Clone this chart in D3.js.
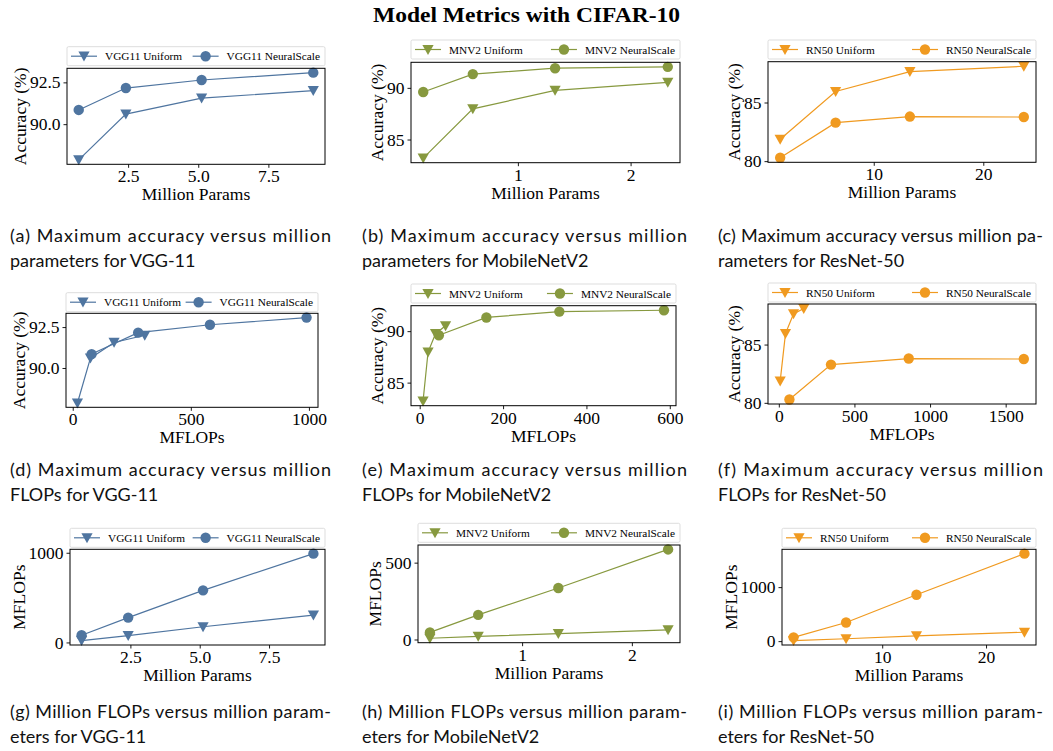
<!DOCTYPE html>
<html>
<head>
<meta charset="utf-8">
<script src="https://cdn.jsdelivr.net/npm/d3@7"></script>
<style>
  body { margin: 0; background: #fff; }
  svg { display: block; }
</style>
</head>
<body>
<svg id="chart" width="1053" height="751"></svg>
<script>
// ---- data ----
var vggParams = [0.74, 2.42, 5.12, 9.1];
var vggAccUniform = [87.86, 90.6, 91.56, 92.0];
var vggAccNeural = [90.85, 92.16, 92.64, 93.08];
var vggFlopsUniform = [20, 75, 175, 305];
var vggFlopsNeural = [80, 277, 581, 990];

var mnvParams = [0.16, 0.60, 1.33, 2.33];
var mnvAccUniform = [83.2, 87.97, 89.75, 90.52];
var mnvAccNeural = [89.6, 91.33, 91.9, 92.03];
var mnvFlopsUniform = [8, 20, 38, 62];
var mnvFlopsNeural = [46, 160, 335, 586];

var rnParams = [1.46, 6.52, 13.3, 23.7];
var rnAccUniform = [81.86, 85.94, 87.63, 88.09];
var rnAccNeural = [80.29, 83.28, 83.8, 83.76];
var rnFlopsUniform = [9, 44, 97, 165];
var rnFlopsNeural = [70, 345, 859, 1620];

var seriesNames = ["Uniform", "NeuralScale"];
var modelNames = ["VGG11", "MNV2", "RN50"];

var vggParamTicks = ["2.5", "5.0", "7.5"];
var vggAccTicks = ["90.0", "92.5"];
var vggFlopTicks = ["0", "500", "1000"];
var vggFlopYTicks = ["0", "1000"];
var mnvParamTicks = ["1", "2"];
var mnvAccTicks = ["85", "90"];
var mnvFlopTicks = ["0", "200", "400", "600"];
var mnvFlopYTicks = ["0", "500"];
var rnParamTicks = ["10", "20"];
var rnAccTicks = ["80", "85"];
var rnFlopTicks = ["0", "500", "1000", "1500"];
var rnFlopYTicks = ["0", "1000"];

var captions = [
  ["(a) Maximum accuracy versus million", "parameters for VGG-11"],
  ["(b) Maximum accuracy versus million", "parameters for MobileNetV2"],
  ["(c) Maximum accuracy versus million pa-", "rameters for ResNet-50"],
  ["(d) Maximum accuracy versus million", "FLOPs for VGG-11"],
  ["(e) Maximum accuracy versus million", "FLOPs for MobileNetV2"],
  ["(f) Maximum accuracy versus million", "FLOPs for ResNet-50"],
  ["(g) Million FLOPs versus million param-", "eters for VGG-11"],
  ["(h) Million FLOPs versus million param-", "eters for MobileNetV2"],
  ["(i) Million FLOPs versus million param-", "eters for ResNet-50"]
];

var colors = ["#4f75a0", "#87993f", "#f09a20"];

// ---- layout ----
var svg = d3.select("#chart");
var serif = "'Liberation Serif', 'Times New Roman', serif";
var sans = "Lato, 'Open Sans', sans-serif";

svg.append("text")
    .attr("x", 373).attr("y", 22)
    .attr("textLength", 307).attr("lengthAdjust", "spacingAndGlyphs")
    .style("font-family", serif).style("font-weight", "bold").style("font-size", "21px")
    .text("Model Metrics with CIFAR-10");

var panels = [
  {box: [67, 68.3, 325, 164.3], lg: 46.7, m: 0, xs: vggParams, ys: [vggAccUniform, vggAccNeural], xt: vggParamTicks, yt: vggAccTicks, xl: "Million Params", yl: "Accuracy (%)"},
  {box: [411, 62.3, 680, 162.7], lg: 40, m: 1, xs: mnvParams, ys: [mnvAccUniform, mnvAccNeural], xt: mnvParamTicks, yt: mnvAccTicks, xl: "Million Params", yl: "Accuracy (%)"},
  {box: [768, 61.7, 1036, 162.3], lg: 40, m: 2, xs: rnParams, ys: [rnAccUniform, rnAccNeural], xt: rnParamTicks, yt: rnAccTicks, xl: "Million Params", yl: "Accuracy (%)"},
  {box: [66, 313.3, 318, 407.3], lg: 292.7, m: 0, xs: [vggFlopsUniform, vggFlopsNeural], ys: [vggAccUniform, vggAccNeural], xt: vggFlopTicks, yt: vggAccTicks, xl: "MFLOPs", yl: "Accuracy (%)"},
  {box: [411, 305.7, 676, 405.7], lg: 284, m: 1, xs: [mnvFlopsUniform, mnvFlopsNeural], ys: [mnvAccUniform, mnvAccNeural], xt: mnvFlopTicks, yt: mnvAccTicks, xl: "MFLOPs", yl: "Accuracy (%)"},
  {box: [768, 304, 1036, 404], lg: 283, m: 2, xs: [rnFlopsUniform, rnFlopsNeural], ys: [rnAccUniform, rnAccNeural], xt: rnFlopTicks, yt: rnAccTicks, xl: "MFLOPs", yl: "Accuracy (%)"},
  {box: [70, 549.3, 325, 645], lg: 528.3, m: 0, xs: vggParams, ys: [vggFlopsUniform, vggFlopsNeural], xt: vggParamTicks, yt: vggFlopYTicks, xl: "Million Params", yl: "MFLOPs"},
  {box: [418, 545, 680, 642.7], lg: 523.3, m: 1, xs: mnvParams, ys: [mnvFlopsUniform, mnvFlopsNeural], xt: mnvParamTicks, yt: mnvFlopYTicks, xl: "Million Params", yl: "MFLOPs"},
  {box: [782, 549.3, 1036, 645], lg: 528.3, m: 2, xs: rnParams, ys: [rnFlopsUniform, rnFlopsNeural], xt: rnParamTicks, yt: rnFlopYTicks, xl: "Million Params", yl: "MFLOPs"}
];

var capCols = [[10, 321], [362, 325], [718, 325]];
var capRows = [242, 476, 718];

function padded(arrs) {
  var all = [].concat.apply([], arrs);
  var lo = d3.min(all), hi = d3.max(all), p = (hi - lo) * 0.05;
  return [lo - p, hi + p];
}

function marker(g, type, cx, cy, col) {
  if (type === 0) {
    g.append("path")
        .attr("d", "M" + (cx - 5.6) + "," + (cy - 4.6) + "L" + (cx + 5.6) + "," + (cy - 4.6) + "L" + cx + "," + (cy + 5.4) + "Z")
        .attr("fill", col);
  } else {
    g.append("circle").attr("cx", cx).attr("cy", cy).attr("r", 5.2).attr("fill", col);
  }
}

panels.forEach(function(p, i) {
  var col = colors[p.m];
  var xsets = Array.isArray(p.xs[0]) ? p.xs : [p.xs, p.xs];
  var L = p.box[0], T = p.box[1], R = p.box[2], B = p.box[3];
  var x = d3.scaleLinear().domain(padded(xsets)).range([L, R]);
  var y = d3.scaleLinear().domain(padded(p.ys)).range([B, T]);
  var g = svg.append("g");

  var xa = g.append("g").attr("transform", "translate(0," + B + ")")
      .call(d3.axisBottom(x).tickValues(p.xt.map(Number)).tickFormat(function(d, k) { return p.xt[k]; })
        .tickSize(3.5).tickPadding(2));
  var ya = g.append("g").attr("transform", "translate(" + L + ",0)")
      .call(d3.axisLeft(y).tickValues(p.yt.map(Number)).tickFormat(function(d, k) { return p.yt[k]; })
        .tickSize(3.5).tickPadding(3));
  [xa, ya].forEach(function(a) {
    a.select(".domain").remove();
    a.selectAll("line").attr("stroke", "#000").attr("stroke-width", 0.9);
    a.selectAll("text").style("font-family", serif).style("font-size", "17.5px").attr("fill", "#000");
  });

  // series
  var line = d3.line().x(function(d) { return x(d[0]); }).y(function(d) { return y(d[1]); });
  [0, 1].forEach(function(s) {
    var pts = xsets[s].map(function(v, k) { return [v, p.ys[s][k]]; });
    g.append("path").attr("d", line(pts)).attr("fill", "none")
        .attr("stroke", col).attr("stroke-width", 1.2);
    pts.forEach(function(d) { marker(g, s, x(d[0]), y(d[1]), col); });
  });

  g.append("rect").attr("x", L).attr("y", T).attr("width", R - L).attr("height", B - T)
      .attr("fill", "none").attr("stroke", "#000").attr("stroke-width", 1);

  // axis labels
  g.append("text").attr("x", (L + R) / 2).attr("y", B + 36)
      .attr("text-anchor", "middle")
      .style("font-family", serif).style("font-size", "17.5px")
      .text(p.xl);
  var tw = d3.max(ya.selectAll("text").nodes(), function(n) { return n.getComputedTextLength(); });
  var lx = L - 3.5 - 3 - tw - 4;
  g.append("text")
      .attr("transform", "translate(" + lx + "," + (T + B) / 2 + ") rotate(-90)")
      .attr("text-anchor", "middle")
      .style("font-family", serif).style("font-size", "17.5px")
      .text(p.yl);

  // legend
  var lg = g.append("g");
  lg.append("rect").attr("x", L).attr("y", p.lg).attr("width", R - L).attr("height", 19)
      .attr("rx", 1.5).attr("fill", "#fff").attr("stroke", "#d9d9d9").attr("stroke-width", 0.9);
  var ly = p.lg + 9.5;
  lg.append("text").attr("x", L + 38).attr("y", ly + 4)
      .style("font-family", serif).style("font-size", "11.3px")
      .text(modelNames[p.m] + " " + seriesNames[0]);
  var t2 = lg.append("text").attr("y", ly + 4)
      .style("font-family", serif).style("font-size", "11.3px")
      .text(modelNames[p.m] + " " + seriesNames[1]);
  var s2 = R - 5 - t2.node().getComputedTextLength();
  t2.attr("x", s2);
  [L + 38, s2].forEach(function(ts, s) {
    lg.append("line").attr("x1", ts - 34).attr("x2", ts - 8).attr("y1", ly).attr("y2", ly)
        .attr("stroke", col).attr("stroke-width", 1.2);
    marker(lg, s, ts - 21, ly, col);
  });

  // caption (first line justified, second line flush left)
  var cx = capCols[i % 3], cy = capRows[Math.floor(i / 3)];
  var c1 = svg.append("text").attr("x", cx[0]).attr("y", cy)
      .style("font-family", sans).style("font-size", "18px").attr("fill", "#111")
      .text(captions[i][0]);
  var nat = c1.node().getComputedTextLength();
  c1.attr("textLength", cx[1]).attr("lengthAdjust", nat > cx[1] ? "spacingAndGlyphs" : "spacing");
  svg.append("text").attr("x", cx[0]).attr("y", cy + 25)
      .style("font-family", sans).style("font-size", "18px").attr("fill", "#111")
      .text(captions[i][1]);
});
</script>
</body>
</html>
